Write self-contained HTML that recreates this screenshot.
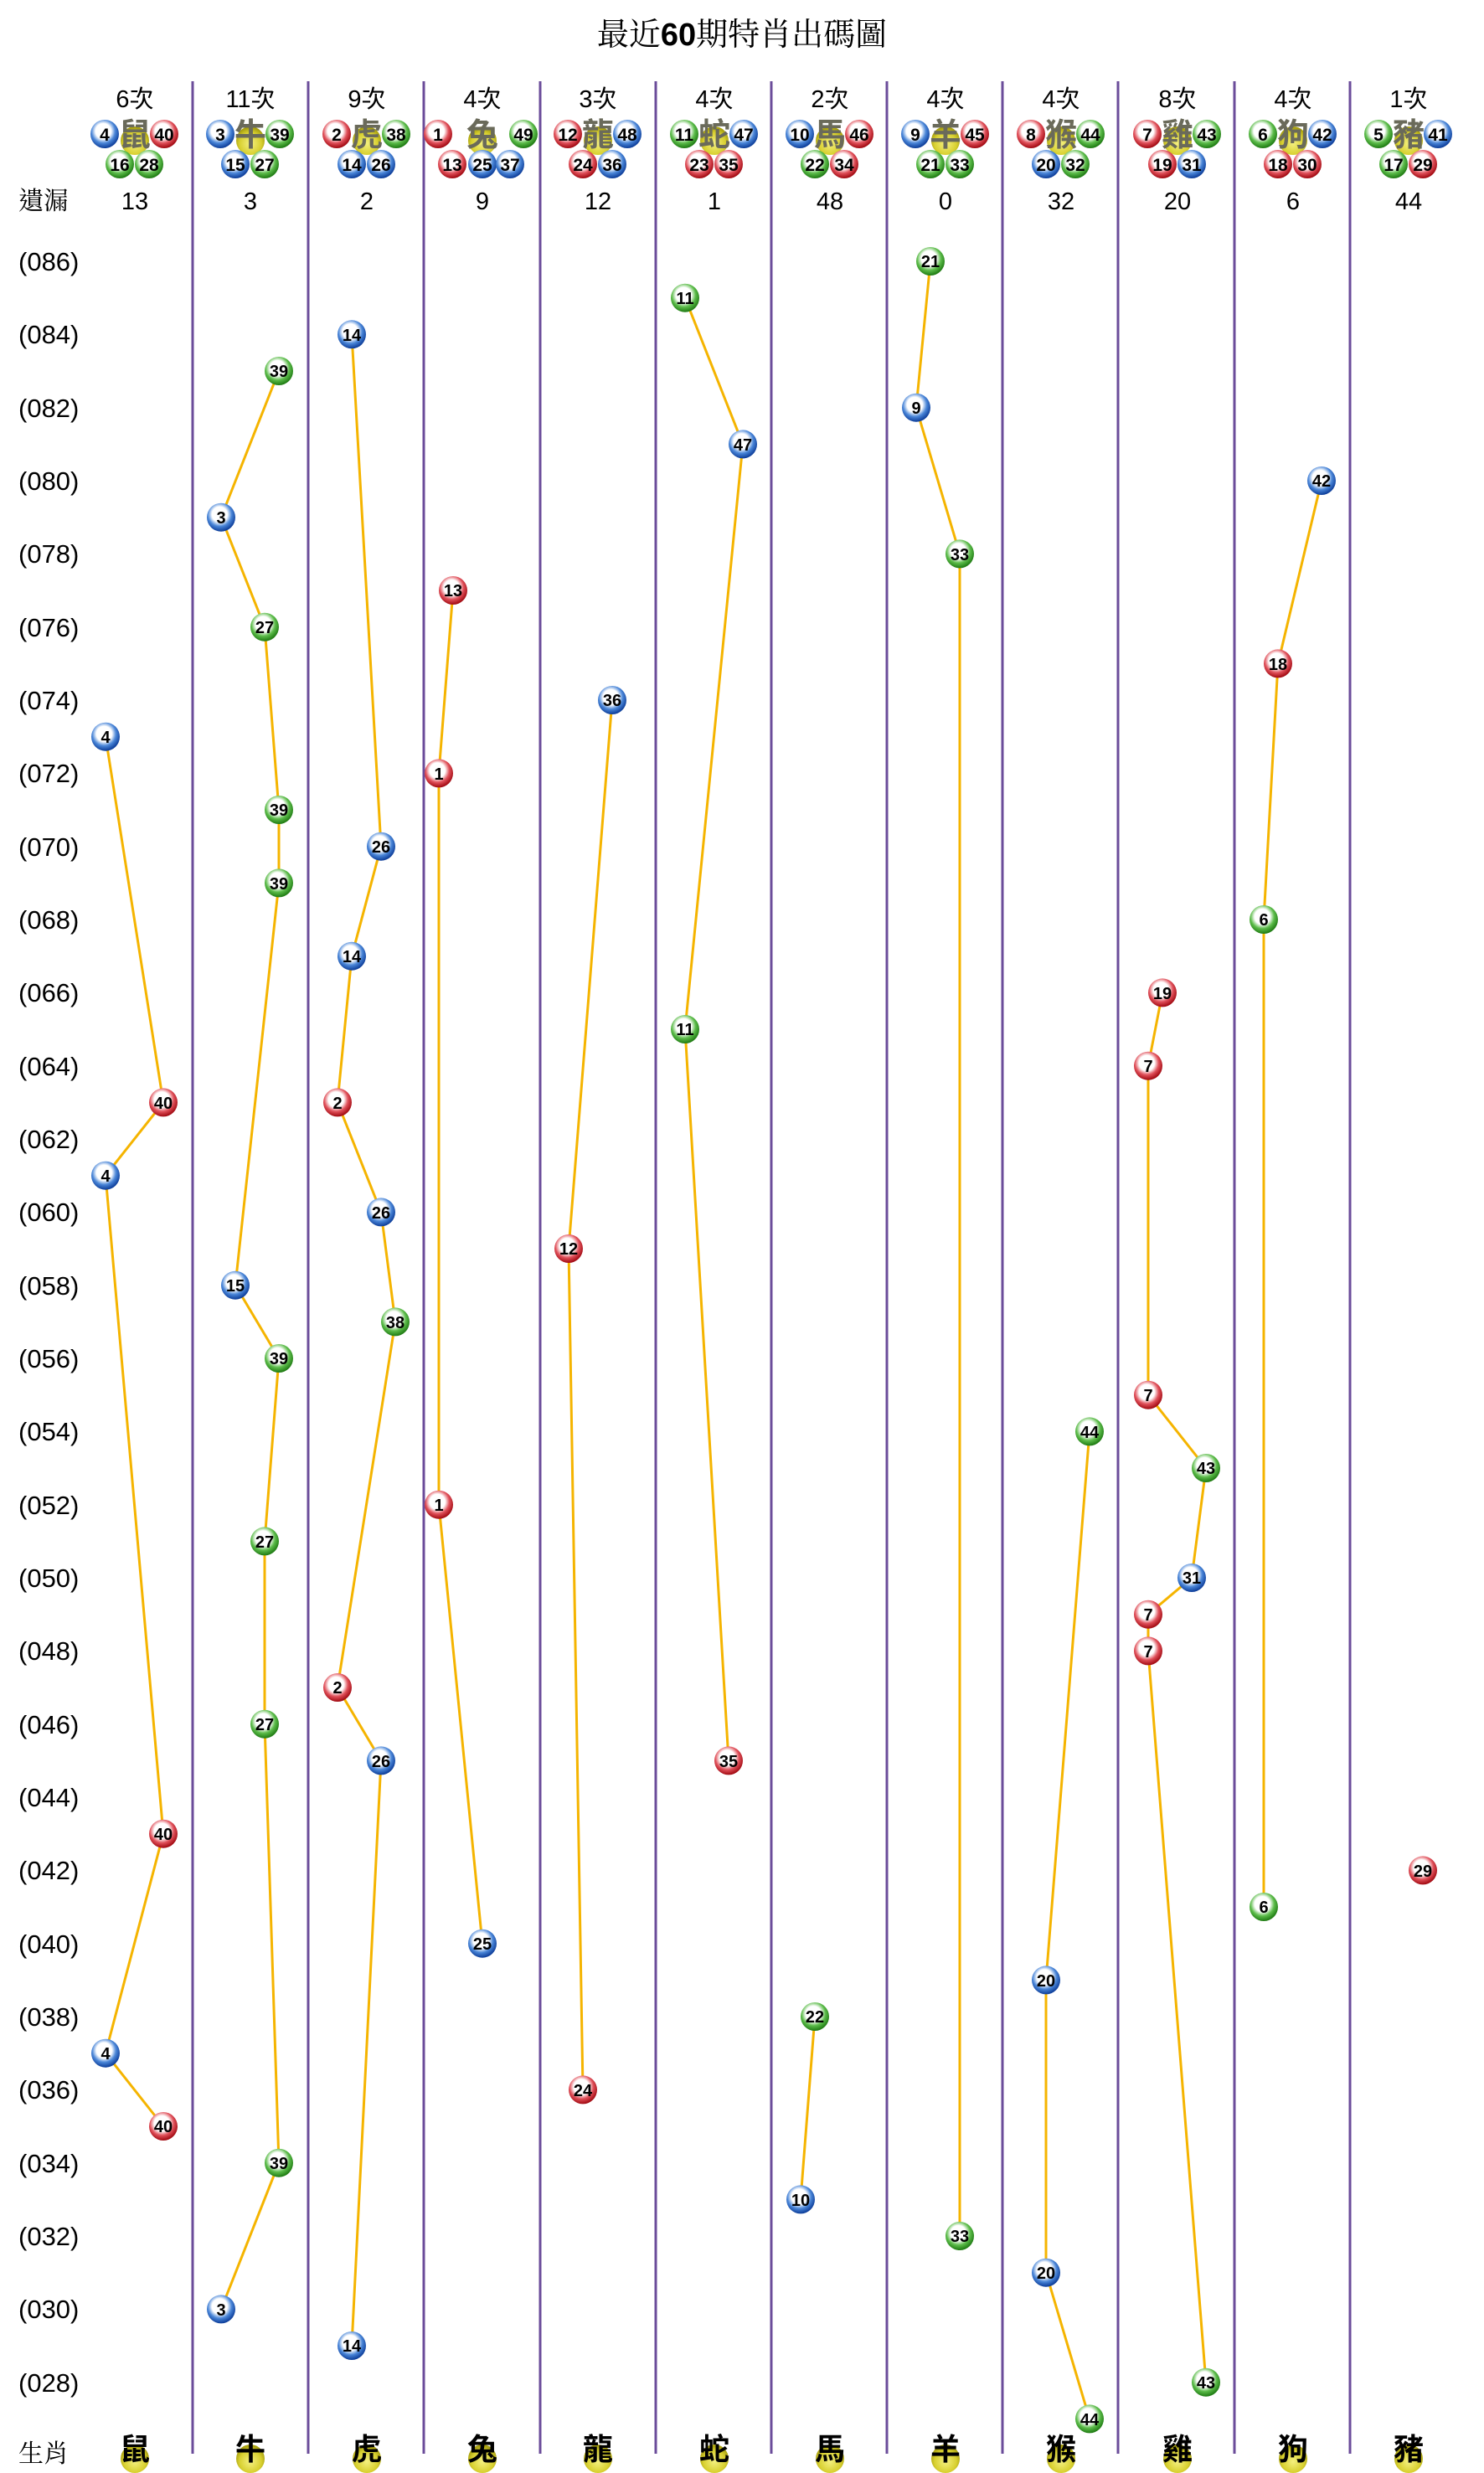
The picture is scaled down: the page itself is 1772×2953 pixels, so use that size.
<!DOCTYPE html>
<html><head><meta charset="utf-8">
<style>
html,body{margin:0;padding:0;background:#fff;}
svg{display:block;}
.n{font-family:"Liberation Sans Narrow","Liberation Sans",sans-serif;font-weight:bold;font-size:20px;fill:#000;text-anchor:middle;}
.lb{font-family:"Liberation Sans",sans-serif;font-size:31px;fill:#000;}
.hd{font-family:"Liberation Sans","Noto Sans CJK TC",sans-serif;font-size:29px;fill:#000;text-anchor:middle;}
.zc{font-family:"Noto Sans CJK TC","WenQuanYi Zen Hei",sans-serif;font-weight:bold;font-size:38px;fill:#6a6a5a;text-anchor:middle;}
.zb{font-family:"Noto Sans CJK TC","WenQuanYi Zen Hei",sans-serif;font-weight:bold;font-size:36px;fill:#000;text-anchor:middle;}
.ln{fill:none;stroke:#f5b400;stroke-width:3;}
.dv{stroke:#6b4c9a;stroke-width:3;}
</style></head><body>
<svg width="1772" height="2953" viewBox="0 0 1772 2953" xmlns="http://www.w3.org/2000/svg">
<defs>
<radialGradient id="r" cx="45%" cy="40%" r="60%"><stop offset="0" stop-color="#fff"/><stop offset="0.45" stop-color="#fff"/><stop offset="0.7" stop-color="#e0505a"/><stop offset="1" stop-color="#a00810"/></radialGradient>
<radialGradient id="b" cx="45%" cy="40%" r="60%"><stop offset="0" stop-color="#fff"/><stop offset="0.45" stop-color="#fff"/><stop offset="0.7" stop-color="#4a86d8"/><stop offset="1" stop-color="#0c3c98"/></radialGradient>
<radialGradient id="g" cx="45%" cy="40%" r="60%"><stop offset="0" stop-color="#fff"/><stop offset="0.45" stop-color="#fff"/><stop offset="0.7" stop-color="#5cbc4a"/><stop offset="1" stop-color="#1e7a12"/></radialGradient>
<radialGradient id="y" cx="50%" cy="60%" r="55%"><stop offset="0" stop-color="#f4f080"/><stop offset="0.7" stop-color="#d8d030"/><stop offset="1" stop-color="#a8a010"/></radialGradient>
</defs>
<rect width="1772" height="2953" fill="#fff"/>

<text x="886" y="54" text-anchor="middle" style="font-family:'Noto Serif CJK SC','Noto Serif CJK TC',serif;font-size:38px;fill:#000;">最近<tspan style="font-family:'Liberation Sans',sans-serif;font-weight:bold;">60</tspan>期特肖出碼圖</text>

<g class="dv">
<line x1="230" y1="97" x2="230" y2="2930"/><line x1="368" y1="97" x2="368" y2="2930"/><line x1="506" y1="97" x2="506" y2="2930"/><line x1="645" y1="97" x2="645" y2="2930"/><line x1="783" y1="97" x2="783" y2="2930"/><line x1="921" y1="97" x2="921" y2="2930"/><line x1="1059" y1="97" x2="1059" y2="2930"/><line x1="1197" y1="97" x2="1197" y2="2930"/><line x1="1335" y1="97" x2="1335" y2="2930"/><line x1="1474" y1="97" x2="1474" y2="2930"/><line x1="1612" y1="97" x2="1612" y2="2930"/>
</g>

<g class="hd">
<text x="161" y="128">6次</text><text x="299" y="128">11次</text><text x="438" y="128">9次</text><text x="576" y="128">4次</text><text x="714" y="128">3次</text><text x="853" y="128">4次</text><text x="991" y="128">2次</text><text x="1129" y="128">4次</text><text x="1267" y="128">4次</text><text x="1406" y="128">8次</text><text x="1544" y="128">4次</text><text x="1682" y="128">1次</text>
</g>
<text x="22" y="250" style="font-family:'Noto Serif CJK TC','Noto Serif CJK SC',serif;font-size:30px;">遺漏</text>
<g class="hd">
<text x="161" y="250">13</text><text x="299" y="250">3</text><text x="438" y="250">2</text><text x="576" y="250">9</text><text x="714" y="250">12</text><text x="853" y="250">1</text><text x="991" y="250">48</text><text x="1129" y="250">0</text><text x="1267" y="250">32</text><text x="1406" y="250">20</text><text x="1544" y="250">6</text><text x="1682" y="250">44</text>
</g>

<g fill="url(#y)">
<circle cx="161" cy="168" r="17"/><circle cx="299" cy="168" r="17"/><circle cx="438" cy="168" r="17"/><circle cx="576" cy="168" r="17"/><circle cx="714" cy="168" r="17"/><circle cx="853" cy="168" r="17"/><circle cx="991" cy="168" r="17"/><circle cx="1129" cy="168" r="17"/><circle cx="1267" cy="168" r="17"/><circle cx="1406" cy="168" r="17"/><circle cx="1544" cy="168" r="17"/><circle cx="1682" cy="168" r="17"/>
</g>
<g class="zc">
<text x="161" y="174">鼠</text><text x="299" y="174">牛</text><text x="438" y="174">虎</text><text x="576" y="174">兔</text><text x="714" y="174">龍</text><text x="853" y="174">蛇</text><text x="991" y="174">馬</text><text x="1129" y="174">羊</text><text x="1267" y="174">猴</text><text x="1406" y="174">雞</text><text x="1544" y="174">狗</text><text x="1682" y="174">豬</text>
</g>

<g>
<circle cx="125" cy="160" r="17" fill="url(#b)"/><circle cx="196" cy="160" r="17" fill="url(#r)"/><circle cx="143" cy="196" r="17" fill="url(#g)"/><circle cx="178" cy="196" r="17" fill="url(#g)"/>
<circle cx="263" cy="160" r="17" fill="url(#b)"/><circle cx="334" cy="160" r="17" fill="url(#g)"/><circle cx="281" cy="196" r="17" fill="url(#b)"/><circle cx="316" cy="196" r="17" fill="url(#g)"/>
<circle cx="402" cy="160" r="17" fill="url(#r)"/><circle cx="473" cy="160" r="17" fill="url(#g)"/><circle cx="420" cy="196" r="17" fill="url(#b)"/><circle cx="455" cy="196" r="17" fill="url(#b)"/>
<circle cx="523" cy="160" r="17" fill="url(#r)"/><circle cx="625" cy="160" r="17" fill="url(#g)"/><circle cx="540" cy="196" r="17" fill="url(#r)"/><circle cx="576" cy="196" r="17" fill="url(#b)"/><circle cx="609" cy="196" r="17" fill="url(#b)"/>
<circle cx="678" cy="160" r="17" fill="url(#r)"/><circle cx="749" cy="160" r="17" fill="url(#b)"/><circle cx="696" cy="196" r="17" fill="url(#r)"/><circle cx="731" cy="196" r="17" fill="url(#b)"/>
<circle cx="817" cy="160" r="17" fill="url(#g)"/><circle cx="888" cy="160" r="17" fill="url(#b)"/><circle cx="835" cy="196" r="17" fill="url(#r)"/><circle cx="870" cy="196" r="17" fill="url(#r)"/>
<circle cx="955" cy="160" r="17" fill="url(#b)"/><circle cx="1026" cy="160" r="17" fill="url(#r)"/><circle cx="973" cy="196" r="17" fill="url(#g)"/><circle cx="1008" cy="196" r="17" fill="url(#r)"/>
<circle cx="1093" cy="160" r="17" fill="url(#b)"/><circle cx="1164" cy="160" r="17" fill="url(#r)"/><circle cx="1111" cy="196" r="17" fill="url(#g)"/><circle cx="1146" cy="196" r="17" fill="url(#g)"/>
<circle cx="1231" cy="160" r="17" fill="url(#r)"/><circle cx="1302" cy="160" r="17" fill="url(#g)"/><circle cx="1249" cy="196" r="17" fill="url(#b)"/><circle cx="1284" cy="196" r="17" fill="url(#g)"/>
<circle cx="1370" cy="160" r="17" fill="url(#r)"/><circle cx="1441" cy="160" r="17" fill="url(#g)"/><circle cx="1388" cy="196" r="17" fill="url(#r)"/><circle cx="1423" cy="196" r="17" fill="url(#b)"/>
<circle cx="1508" cy="160" r="17" fill="url(#g)"/><circle cx="1579" cy="160" r="17" fill="url(#b)"/><circle cx="1526" cy="196" r="17" fill="url(#r)"/><circle cx="1561" cy="196" r="17" fill="url(#r)"/>
<circle cx="1646" cy="160" r="17" fill="url(#g)"/><circle cx="1717" cy="160" r="17" fill="url(#b)"/><circle cx="1664" cy="196" r="17" fill="url(#g)"/><circle cx="1699" cy="196" r="17" fill="url(#r)"/>
</g>
<g class="n" style="font-size:21px">
<text x="125" y="168">4</text><text x="196" y="168">40</text><text x="143" y="204">16</text><text x="178" y="204">28</text>
<text x="263" y="168">3</text><text x="334" y="168">39</text><text x="281" y="204">15</text><text x="316" y="204">27</text>
<text x="402" y="168">2</text><text x="473" y="168">38</text><text x="420" y="204">14</text><text x="455" y="204">26</text>
<text x="523" y="168">1</text><text x="625" y="168">49</text><text x="540" y="204">13</text><text x="576" y="204">25</text><text x="609" y="204">37</text>
<text x="678" y="168">12</text><text x="749" y="168">48</text><text x="696" y="204">24</text><text x="731" y="204">36</text>
<text x="817" y="168">11</text><text x="888" y="168">47</text><text x="835" y="204">23</text><text x="870" y="204">35</text>
<text x="955" y="168">10</text><text x="1026" y="168">46</text><text x="973" y="204">22</text><text x="1008" y="204">34</text>
<text x="1093" y="168">9</text><text x="1164" y="168">45</text><text x="1111" y="204">21</text><text x="1146" y="204">33</text>
<text x="1231" y="168">8</text><text x="1302" y="168">44</text><text x="1249" y="204">20</text><text x="1284" y="204">32</text>
<text x="1370" y="168">7</text><text x="1441" y="168">43</text><text x="1388" y="204">19</text><text x="1423" y="204">31</text>
<text x="1508" y="168">6</text><text x="1579" y="168">42</text><text x="1526" y="204">18</text><text x="1561" y="204">30</text>
<text x="1646" y="168">5</text><text x="1717" y="168">41</text><text x="1664" y="204">17</text><text x="1699" y="204">29</text>
</g>

<g class="lb">
<text x="22" y="323">(086)</text><text x="22" y="410">(084)</text><text x="22" y="498">(082)</text><text x="22" y="585">(080)</text><text x="22" y="672">(078)</text><text x="22" y="760">(076)</text><text x="22" y="847">(074)</text><text x="22" y="934">(072)</text><text x="22" y="1022">(070)</text><text x="22" y="1109">(068)</text><text x="22" y="1196">(066)</text><text x="22" y="1284">(064)</text><text x="22" y="1371">(062)</text><text x="22" y="1458">(060)</text><text x="22" y="1546">(058)</text><text x="22" y="1633">(056)</text><text x="22" y="1720">(054)</text><text x="22" y="1808">(052)</text><text x="22" y="1895">(050)</text><text x="22" y="1982">(048)</text><text x="22" y="2070">(046)</text><text x="22" y="2157">(044)</text><text x="22" y="2244">(042)</text><text x="22" y="2332">(040)</text><text x="22" y="2419">(038)</text><text x="22" y="2506">(036)</text><text x="22" y="2594">(034)</text><text x="22" y="2681">(032)</text><text x="22" y="2768">(030)</text><text x="22" y="2856">(028)</text>
</g>

<polyline class="ln" points="126,879.7 195,1316.4 126,1403.7 195,2189.7 126,2451.7 195,2539"/>
<polyline class="ln" points="333,443 264,617.7 316,748.7 333,967 333,1054.4 281,1534.7 333,1622 316,1840.4 316,2058.7 333,2582.7 264,2757.4"/>
<polyline class="ln" points="420,399.3 455,1010.7 420,1141.7 403,1316.4 455,1447.4 472,1578.4 403,2015 455,2102.4 420,2801"/>
<polyline class="ln" points="541,705 524,923.4 524,1796.7 576,2320.7"/>
<polyline class="ln" points="731,836 679,1491 696,2495.4"/>
<polyline class="ln" points="818,355.7 887,530.4 818,1229 870,2102.4"/>
<polyline class="ln" points="973,2408 956,2626.4"/>
<polyline class="ln" points="1111,312 1094,486.7 1146,661.4 1146,2670"/>
<polyline class="ln" points="1301,1709.4 1249,2364.4 1249,2713.7 1301,2888.4"/>
<polyline class="ln" points="1388,1185.4 1371,1272.7 1371,1665.7 1440,1753 1423,1884 1371,1927.7 1371,1971.4 1440,2844.7"/>
<polyline class="ln" points="1578,574 1526,792.4 1509,1098 1509,2277"/>

<g>
<circle cx="126" cy="879.7" r="17" fill="url(#b)"/><circle cx="195" cy="1316.4" r="17" fill="url(#r)"/><circle cx="126" cy="1403.7" r="17" fill="url(#b)"/><circle cx="195" cy="2189.7" r="17" fill="url(#r)"/><circle cx="126" cy="2451.7" r="17" fill="url(#b)"/><circle cx="195" cy="2539" r="17" fill="url(#r)"/>
<circle cx="333" cy="443" r="17" fill="url(#g)"/><circle cx="264" cy="617.7" r="17" fill="url(#b)"/><circle cx="316" cy="748.7" r="17" fill="url(#g)"/><circle cx="333" cy="967" r="17" fill="url(#g)"/><circle cx="333" cy="1054.4" r="17" fill="url(#g)"/><circle cx="281" cy="1534.7" r="17" fill="url(#b)"/><circle cx="333" cy="1622" r="17" fill="url(#g)"/><circle cx="316" cy="1840.4" r="17" fill="url(#g)"/><circle cx="316" cy="2058.7" r="17" fill="url(#g)"/><circle cx="333" cy="2582.7" r="17" fill="url(#g)"/><circle cx="264" cy="2757.4" r="17" fill="url(#b)"/>
<circle cx="420" cy="399.3" r="17" fill="url(#b)"/><circle cx="455" cy="1010.7" r="17" fill="url(#b)"/><circle cx="420" cy="1141.7" r="17" fill="url(#b)"/><circle cx="403" cy="1316.4" r="17" fill="url(#r)"/><circle cx="455" cy="1447.4" r="17" fill="url(#b)"/><circle cx="472" cy="1578.4" r="17" fill="url(#g)"/><circle cx="403" cy="2015" r="17" fill="url(#r)"/><circle cx="455" cy="2102.4" r="17" fill="url(#b)"/><circle cx="420" cy="2801" r="17" fill="url(#b)"/>
<circle cx="541" cy="705" r="17" fill="url(#r)"/><circle cx="524" cy="923.4" r="17" fill="url(#r)"/><circle cx="524" cy="1796.7" r="17" fill="url(#r)"/><circle cx="576" cy="2320.7" r="17" fill="url(#b)"/>
<circle cx="731" cy="836" r="17" fill="url(#b)"/><circle cx="679" cy="1491" r="17" fill="url(#r)"/><circle cx="696" cy="2495.4" r="17" fill="url(#r)"/>
<circle cx="818" cy="355.7" r="17" fill="url(#g)"/><circle cx="887" cy="530.4" r="17" fill="url(#b)"/><circle cx="818" cy="1229" r="17" fill="url(#g)"/><circle cx="870" cy="2102.4" r="17" fill="url(#r)"/>
<circle cx="973" cy="2408" r="17" fill="url(#g)"/><circle cx="956" cy="2626.4" r="17" fill="url(#b)"/>
<circle cx="1111" cy="312" r="17" fill="url(#g)"/><circle cx="1094" cy="486.7" r="17" fill="url(#b)"/><circle cx="1146" cy="661.4" r="17" fill="url(#g)"/><circle cx="1146" cy="2670" r="17" fill="url(#g)"/>
<circle cx="1301" cy="1709.4" r="17" fill="url(#g)"/><circle cx="1249" cy="2364.4" r="17" fill="url(#b)"/><circle cx="1249" cy="2713.7" r="17" fill="url(#b)"/><circle cx="1301" cy="2888.4" r="17" fill="url(#g)"/>
<circle cx="1388" cy="1185.4" r="17" fill="url(#r)"/><circle cx="1371" cy="1272.7" r="17" fill="url(#r)"/><circle cx="1371" cy="1665.7" r="17" fill="url(#r)"/><circle cx="1440" cy="1753" r="17" fill="url(#g)"/><circle cx="1423" cy="1884" r="17" fill="url(#b)"/><circle cx="1371" cy="1927.7" r="17" fill="url(#r)"/><circle cx="1371" cy="1971.4" r="17" fill="url(#r)"/><circle cx="1440" cy="2844.7" r="17" fill="url(#g)"/>
<circle cx="1578" cy="574" r="17" fill="url(#b)"/><circle cx="1526" cy="792.4" r="17" fill="url(#r)"/><circle cx="1509" cy="1098" r="17" fill="url(#g)"/><circle cx="1509" cy="2277" r="17" fill="url(#g)"/>
<circle cx="1699" cy="2233.4" r="17" fill="url(#r)"/>
</g>
<g class="n">
<text x="126" y="887">4</text><text x="195" y="1324">40</text><text x="126" y="1411">4</text><text x="195" y="2197">40</text><text x="126" y="2459">4</text><text x="195" y="2546">40</text>
<text x="333" y="450">39</text><text x="264" y="625">3</text><text x="316" y="756">27</text><text x="333" y="974">39</text><text x="333" y="1062">39</text><text x="281" y="1542">15</text><text x="333" y="1629">39</text><text x="316" y="1848">27</text><text x="316" y="2066">27</text><text x="333" y="2590">39</text><text x="264" y="2765">3</text>
<text x="420" y="407">14</text><text x="455" y="1018">26</text><text x="420" y="1149">14</text><text x="403" y="1324">2</text><text x="455" y="1455">26</text><text x="472" y="1586">38</text><text x="403" y="2022">2</text><text x="455" y="2110">26</text><text x="420" y="2808">14</text>
<text x="541" y="712">13</text><text x="524" y="931">1</text><text x="524" y="1804">1</text><text x="576" y="2328">25</text>
<text x="731" y="843">36</text><text x="679" y="1498">12</text><text x="696" y="2503">24</text>
<text x="818" y="363">11</text><text x="887" y="538">47</text><text x="818" y="1236">11</text><text x="870" y="2110">35</text>
<text x="973" y="2415">22</text><text x="956" y="2634">10</text>
<text x="1111" y="319">21</text><text x="1094" y="494">9</text><text x="1146" y="669">33</text><text x="1146" y="2677">33</text>
<text x="1301" y="1717">44</text><text x="1249" y="2372">20</text><text x="1249" y="2721">20</text><text x="1301" y="2896">44</text>
<text x="1388" y="1193">19</text><text x="1371" y="1280">7</text><text x="1371" y="1673">7</text><text x="1440" y="1760">43</text><text x="1423" y="1891">31</text><text x="1371" y="1935">7</text><text x="1371" y="1979">7</text><text x="1440" y="2852">43</text>
<text x="1578" y="581">42</text><text x="1526" y="800">18</text><text x="1509" y="1105">6</text><text x="1509" y="2284">6</text>
<text x="1699" y="2241">29</text>
</g>

<text x="22" y="2940" style="font-family:'Noto Serif CJK TC','Noto Serif CJK SC',serif;font-size:30px;">生肖</text>
<g fill="url(#y)">
<circle cx="161" cy="2936" r="17"/><circle cx="299" cy="2936" r="17"/><circle cx="438" cy="2936" r="17"/><circle cx="576" cy="2936" r="17"/><circle cx="714" cy="2936" r="17"/><circle cx="853" cy="2936" r="17"/><circle cx="991" cy="2936" r="17"/><circle cx="1129" cy="2936" r="17"/><circle cx="1267" cy="2936" r="17"/><circle cx="1406" cy="2936" r="17"/><circle cx="1544" cy="2936" r="17"/><circle cx="1682" cy="2936" r="17"/>
</g>
<g class="zb">
<text x="161" y="2937">鼠</text><text x="299" y="2937">牛</text><text x="438" y="2937">虎</text><text x="576" y="2937">兔</text><text x="714" y="2937">龍</text><text x="853" y="2937">蛇</text><text x="991" y="2937">馬</text><text x="1129" y="2937">羊</text><text x="1267" y="2937">猴</text><text x="1406" y="2937">雞</text><text x="1544" y="2937">狗</text><text x="1682" y="2937">豬</text>
</g>
</svg>
</body></html>
